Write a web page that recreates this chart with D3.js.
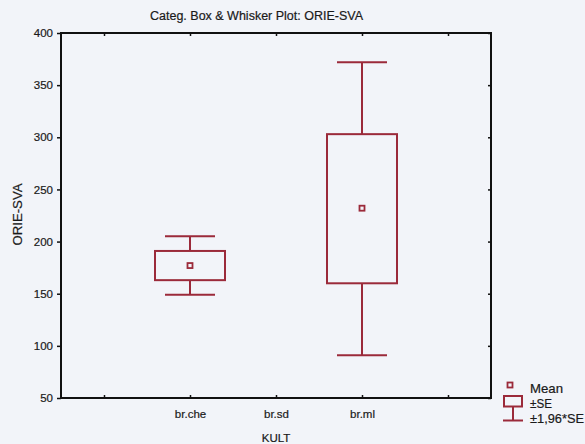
<!DOCTYPE html>
<html>
<head>
<meta charset="utf-8">
<script src="https://cdn.jsdelivr.net/npm/d3@7"></script>
<style>
  html, body { margin: 0; padding: 0; background: #f2f4f9; }
  svg { display: block; }
  text { font-family: "Liberation Sans", Arial, sans-serif; fill: #1a1a1a; stroke: #1a1a1a; stroke-width: 0.2; }
</style>
</head>
<body>
<svg id="chart" width="585" height="444"></svg>
<script>
// ---- data ----
const title = "Categ. Box & Whisker Plot: ORIE-SVA";
const yLabel = "ORIE-SVA";
const xLabel = "KULT";
const categories = ["br.che", "br.sd", "br.ml"];
const means    = [177, null, 232];
const seLow    = [163, null, 160];
const seHigh   = [191, null, 303];
const ciLow    = [149, null, 91];
const ciHigh   = [205, null, 372];
const yTicks   = [50, 100, 150, 200, 250, 300, 350, 400];
const legendLabels = ["Mean", "±SE", "±1,96*SE"];

// ---- layout ----
const svg = d3.select("#chart");
const L = 61, R = 491, T = 33, B = 398;
const color = "#9b2a3a";

const slots = ["pad0", ...categories, "pad1"];
const x = d3.scalePoint().domain(slots).range([L, R]).padding(0.5);
const y = d3.scaleLinear().domain([50, 400]).range([B, T]);

// frame
svg.append("rect").attr("x", L).attr("y", T).attr("width", R - L).attr("height", B - T)
  .attr("fill", "none").attr("stroke", "#111").attr("stroke-width", 2);

// axes
const fmtX = d => categories.includes(d) ? d : "";
const axL = svg.append("g").attr("transform", `translate(${L},0)`)
  .call(d3.axisLeft(y).tickValues(yTicks).tickSize(4).tickPadding(4));
const axR = svg.append("g").attr("transform", `translate(${R},0)`)
  .call(d3.axisLeft(y).tickValues(yTicks).tickSize(3).tickFormat(""));
const axB = svg.append("g").attr("transform", `translate(0,${B})`)
  .call(d3.axisTop(x).tickSize(3).tickFormat(""));
const axT = svg.append("g").attr("transform", `translate(0,${T})`)
  .call(d3.axisBottom(x).tickSize(3).tickFormat(""));
const axBL = svg.append("g").attr("transform", `translate(0,${B})`)
  .call(d3.axisBottom(x).tickSize(0).tickPadding(12).tickFormat(fmtX));
[axL, axR, axB, axT, axBL].forEach(g => {
  g.select(".domain").remove();
  g.selectAll(".tick line").attr("stroke", "#111").attr("stroke-width", 1.5);
  g.selectAll(".tick text").attr("font-size", 11.5).attr("fill", "#1a1a1a")
    .attr("font-family", "'Liberation Sans', Arial, sans-serif");
});

// titles
svg.append("text").attr("x", 256.5).attr("y", 20).attr("text-anchor", "middle")
  .attr("font-size", 12.5).attr("textLength", 213).attr("lengthAdjust", "spacingAndGlyphs").text(title);
svg.append("text").attr("transform", `translate(22,${(T + B) / 2 - 1}) rotate(-90)`)
  .attr("text-anchor", "middle").attr("font-size", 12.5)
  .attr("textLength", 62).attr("lengthAdjust", "spacingAndGlyphs").text(yLabel);
svg.append("text").attr("x", x("br.sd")).attr("y", 442).attr("text-anchor", "middle")
  .attr("font-size", 11.5).text(xLabel);

// boxes
const boxW = 70, capW = 50;
const data = categories.map((c, i) => ({ c, m: means[i], lo: seLow[i], hi: seHigh[i], wl: ciLow[i], wh: ciHigh[i] }))
  .filter(d => d.m != null);
const g = svg.append("g").attr("stroke", color).attr("stroke-width", 2).attr("fill", "none");
data.forEach(d => {
  const cx = x(d.c);
  g.append("line").attr("x1", cx).attr("x2", cx).attr("y1", y(d.wh)).attr("y2", y(d.hi));
  g.append("line").attr("x1", cx).attr("x2", cx).attr("y1", y(d.lo)).attr("y2", y(d.wl));
  g.append("line").attr("x1", cx - capW / 2).attr("x2", cx + capW / 2).attr("y1", y(d.wh)).attr("y2", y(d.wh));
  g.append("line").attr("x1", cx - capW / 2).attr("x2", cx + capW / 2).attr("y1", y(d.wl)).attr("y2", y(d.wl));
  g.append("rect").attr("x", cx - boxW / 2).attr("y", y(d.hi)).attr("width", boxW).attr("height", y(d.lo) - y(d.hi));
  g.append("rect").attr("x", cx - 2.5).attr("y", y(d.m) - 2.5).attr("width", 5).attr("height", 5)
    .attr("stroke-width", 1.8);
});

// legend
const lg = svg.append("g");
lg.append("rect").attr("x", 507.5).attr("y", 382.5).attr("width", 5).attr("height", 5)
  .attr("fill", "none").attr("stroke", color).attr("stroke-width", 1.8);
lg.append("rect").attr("x", 504).attr("y", 396).attr("width", 18).attr("height", 10.5)
  .attr("fill", "none").attr("stroke", color).attr("stroke-width", 2);
lg.append("line").attr("x1", 513).attr("x2", 513).attr("y1", 406.5).attr("y2", 420)
  .attr("stroke", color).attr("stroke-width", 2);
lg.append("line").attr("x1", 503).attr("x2", 523).attr("y1", 420.5).attr("y2", 420.5)
  .attr("stroke", color).attr("stroke-width", 2);
const ly = [392.5, 407.5, 422.5];
const lw = [33, 22, 54];
legendLabels.forEach((t, i) => {
  lg.append("text").attr("x", 530).attr("y", ly[i]).attr("font-size", 13)
    .attr("textLength", lw[i]).attr("lengthAdjust", "spacingAndGlyphs").text(t);
});
</script>
</body>
</html>
